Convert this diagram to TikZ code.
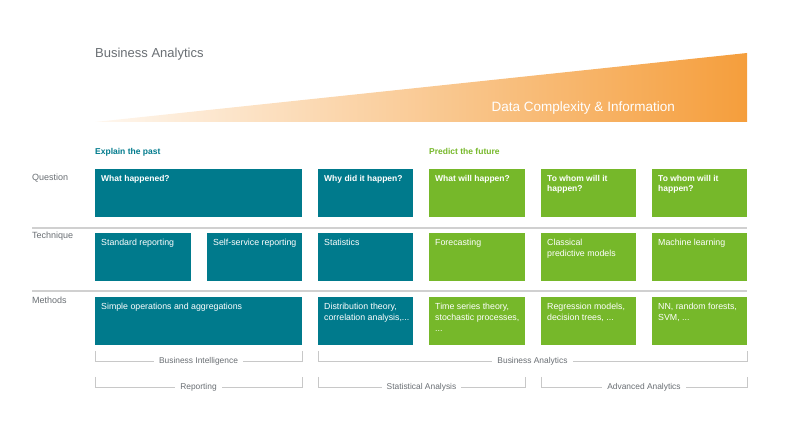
\documentclass[tikz,border=0pt]{standalone}
\usepackage{fontspec}
\setmainfont{Liberation Sans}
\usetikzlibrary{positioning,calc}
\definecolor{bateal}{RGB}{0,122,140}
\definecolor{bagreen}{RGB}{118,184,42}
\definecolor{baorange}{RGB}{245,158,60}
\definecolor{bagray}{RGB}{105,110,115}
\definecolor{baline}{RGB}{200,200,200}
\tikzset{>=stealth}

\begin{document}
\begin{tikzpicture}[x=1pt,y=-1pt,
	tile/.style={anchor=north west, minimum height=48pt, inner sep=0pt, outer sep=0pt},
	tealtile/.style={tile, fill=bateal},
	greentile/.style={tile, fill=bagreen},
	tiletext/.style={anchor=north west, inner sep=0pt, text=white, align=left, font=\fontsize{8.8}{11.2}\selectfont},
	qtext/.style={tiletext, font=\fontsize{8.5}{10.5}\selectfont\bfseries},
	rowlabel/.style={anchor=base west, inner sep=0pt, text=bagray, font=\fontsize{9}{10}\selectfont},
	headtext/.style={anchor=base west, inner sep=0pt, font=\fontsize{8.5}{10}\selectfont\bfseries},
	brace/.style={draw=baline, line width=0.8pt},
	bracetext/.style={fill=white, inner xsep=5pt, inner ysep=1pt, text=bagray, font=\fontsize{8.4}{10}\selectfont},
	sep/.style={draw=baline!85, line width=1.6pt}]
					\useasboundingbox (0,0) rectangle (787,443);
					%Header
					\node[anchor=base west, inner sep=0pt, text=bagray, font=\fontsize{13}{15}\selectfont] (title) at (95,58) {Business Analytics};
					\coordinate (wedgeL) at (95,122);
					\coordinate (wedgeR) at (747,122);
					\coordinate (wedgeT) at (747,53);
					\shade[left color=baorange!8, right color=baorange] (wedgeL) -- (wedgeR) -- (wedgeT) -- cycle;
					\node[anchor=base east, inner sep=0pt, text=white, font=\fontsize{13.5}{15}\selectfont] (complexity) at (675,112) {Data Complexity \& Information};
					\node[headtext, text=bateal] (past) at (95,155) {Explain the past};
					\node[headtext, text=bagreen] (future) at (429,155) {Predict the future};
					
					%Row labels
					\node[rowlabel] (question) at (32,181) {Question};
					\node[rowlabel] (technique) at (32,239) {Technique};
					\node[rowlabel] (methods) at (32,304) {Methods};
					\coordinate (sepAL) at (32,228);
					\coordinate (sepAR) at (747,228);
					\coordinate (sepBL) at (32,291);
					\coordinate (sepBR) at (747,291);
					\draw[sep] (sepAL) -- (sepAR);
					\draw[sep] (sepBL) -- (sepBR);
					
					%Question
					\node[tealtile, minimum width=207pt] (Q1) at (95,169) {};
					\node[tealtile, minimum width=95pt] (Q2) at (318,169) {};
					\node[greentile, minimum width=96pt] (Q3) at (429,169) {};
					\node[greentile, minimum width=95pt] (Q4) at (541,169) {};
					\node[greentile, minimum width=95pt] (Q5) at (652,169) {};
					\node[qtext] (tQ1) at ($(Q1.north west)+(6,6)$) {What happened?};
					\node[qtext] (tQ2) at ($(Q2.north west)+(6,6)$) {Why did it happen?};
					\node[qtext] (tQ3) at ($(Q3.north west)+(6,6)$) {What will happen?};
					\node[qtext] (tQ4) at ($(Q4.north west)+(6,6)$) {To whom will it\\happen?};
					\node[qtext] (tQ5) at ($(Q5.north west)+(6,6)$) {To whom will it\\happen?};
					
					%Technique
					\node[tealtile, minimum width=96pt] (T1) at (95,233) {};
					\node[tealtile, minimum width=95pt] (T2) at (207,233) {};
					\node[tealtile, minimum width=95pt] (T3) at (318,233) {};
					\node[greentile, minimum width=96pt] (T4) at (429,233) {};
					\node[greentile, minimum width=95pt] (T5) at (541,233) {};
					\node[greentile, minimum width=95pt] (T6) at (652,233) {};
					\node[tiletext] (tT1) at ($(T1.north west)+(6,6)$) {Standard reporting};
					\node[tiletext] (tT2) at ($(T2.north west)+(6,6)$) {Self-service reporting};
					\node[tiletext] (tT3) at ($(T3.north west)+(6,6)$) {Statistics};
					\node[tiletext] (tT4) at ($(T4.north west)+(6,6)$) {Forecasting};
					\node[tiletext] (tT5) at ($(T5.north west)+(6,6)$) {Classical\\predictive models};
					\node[tiletext] (tT6) at ($(T6.north west)+(6,6)$) {Machine learning};
					
					%Methods
					\node[tealtile, minimum width=207pt] (M1) at (95,297) {};
					\node[tealtile, minimum width=95pt] (M2) at (318,297) {};
					\node[greentile, minimum width=96pt] (M3) at (429,297) {};
					\node[greentile, minimum width=95pt] (M4) at (541,297) {};
					\node[greentile, minimum width=95pt] (M5) at (652,297) {};
					\node[tiletext] (tM1) at ($(M1.north west)+(6,6)$) {Simple operations and aggregations};
					\node[tiletext] (tM2) at ($(M2.north west)+(6,6)$) {Distribution theory,\\correlation analysis,...};
					\node[tiletext] (tM3) at ($(M3.north west)+(6,6)$) {Time series theory,\\stochastic processes,\\...};
					\node[tiletext] (tM4) at ($(M4.north west)+(6,6)$) {Regression models,\\decision trees, ...};
					\node[tiletext] (tM5) at ($(M5.north west)+(6,6)$) {NN, random forests,\\SVM, ...};
					
					%Brackets
					\coordinate (biL) at (95,351);
					\coordinate (biR) at (302,351);
					\coordinate (baL) at (318,351);
					\coordinate (baR) at (747,351);
					\coordinate (repL) at (95,377);
					\coordinate (repR) at (302,377);
					\coordinate (statL) at (318,377);
					\coordinate (statR) at (525,377);
					\coordinate (advL) at (541,377);
					\coordinate (advR) at (747,377);
					\draw[brace] (biL) -- ++(0,10) -| (biR);
					\draw[brace] (baL) -- ++(0,10) -| (baR);
					\draw[brace] (repL) -- ++(0,10) -| (repR);
					\draw[brace] (statL) -- ++(0,10) -| (statR);
					\draw[brace] (advL) -- ++(0,10) -| (advR);
					\node[bracetext] (bi) at ($(biL)!0.5!(biR)+(0,10)$) {Business Intelligence};
					\node[bracetext] (ba) at ($(baL)!0.5!(baR)+(0,10)$) {Business Analytics};
					\node[bracetext] (rep) at ($(repL)!0.5!(repR)+(0,10)$) {Reporting};
					\node[bracetext] (stat) at ($(statL)!0.5!(statR)+(0,10)$) {Statistical Analysis};
					\node[bracetext] (adv) at ($(advL)!0.5!(advR)+(0,10)$) {Advanced Analytics};
				\end{tikzpicture}
\end{document}
